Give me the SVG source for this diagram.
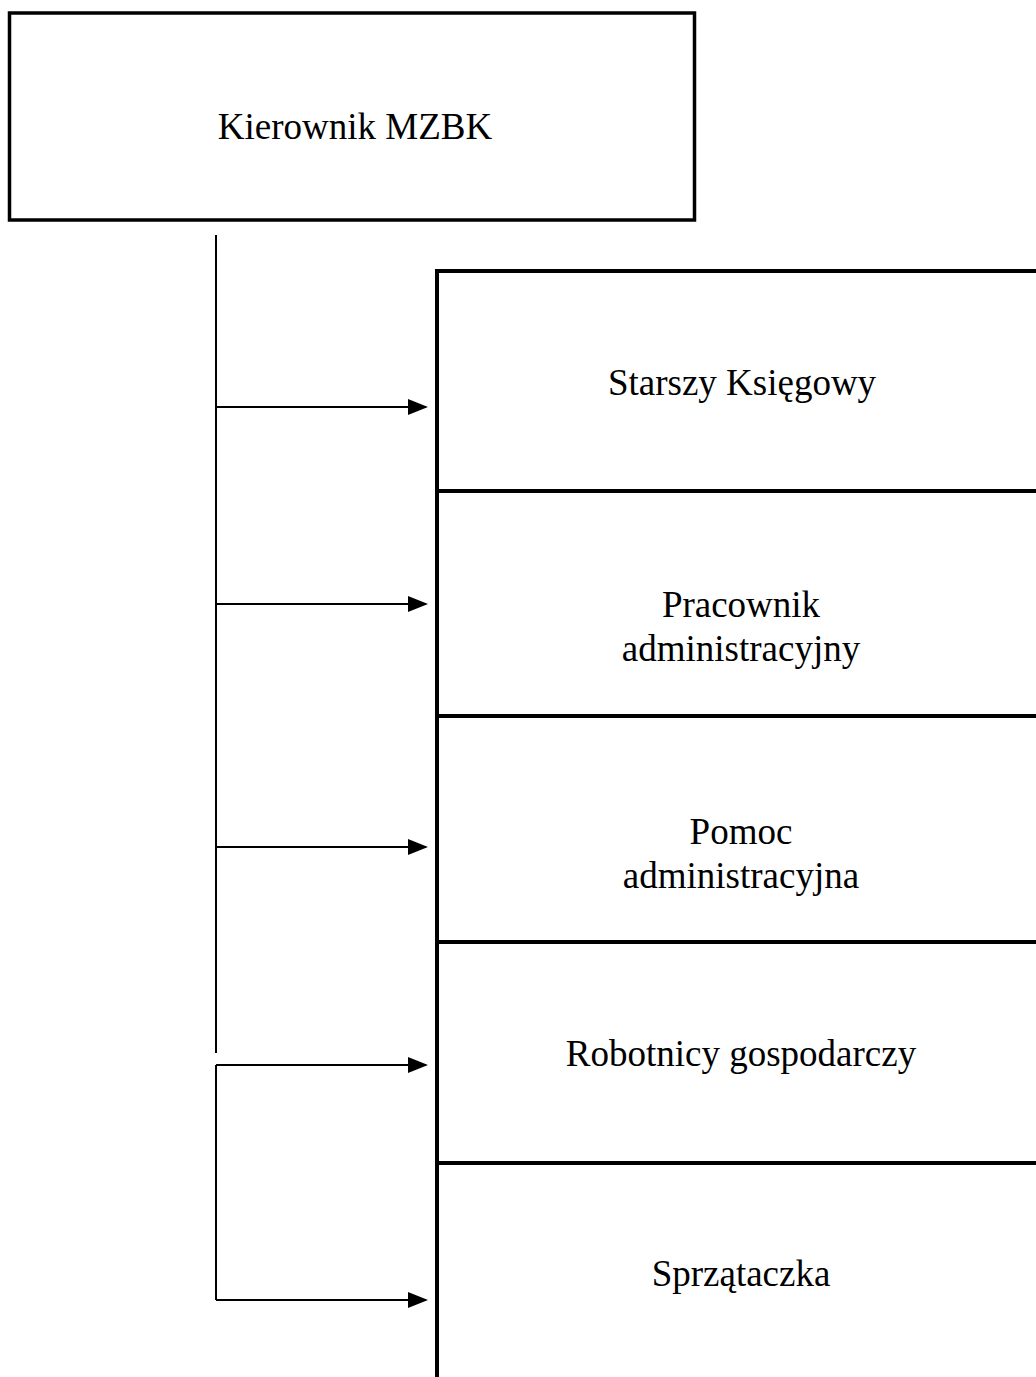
<svg xmlns="http://www.w3.org/2000/svg" width="1036" height="1377" viewBox="0 0 1036 1377">
<style>
.box{fill:#fff;stroke:#000;stroke-width:4}
.top{fill:#fff;stroke:#000;stroke-width:3.5}
.lbl{font-family:"Liberation Serif","Times New Roman",serif;font-size:37px;fill:#000;text-anchor:middle}
.ln{stroke:#000;stroke-width:2;fill:none}
</style>
<defs>
<marker id="ah" markerWidth="10" markerHeight="8" refX="9" refY="4" orient="auto" markerUnits="strokeWidth">
<path d="M0,0 L10,4 L0,8 Z" fill="#000"/>
</marker>
</defs>
<rect width="1036" height="1377" fill="#fff"/>
<g id="kierownik">
<rect class="top" x="9.5" y="13" width="685" height="207"/>
<text class="lbl" x="355" y="139">Kierownik MZBK</text>
</g>
<g id="starszy-ksiegowy">
<rect class="box" x="437" y="271" width="640" height="220"/>
<text class="lbl" x="742" y="395">Starszy Księgowy</text>
</g>
<g id="pracownik-administracyjny">
<rect class="box" x="437" y="491" width="640" height="225"/>
<text class="lbl" x="741" y="617">Pracownik</text>
<text class="lbl" x="741" y="661">administracyjny</text>
</g>
<g id="pomoc-administracyjna">
<rect class="box" x="437" y="716" width="640" height="226"/>
<text class="lbl" x="741" y="844">Pomoc</text>
<text class="lbl" x="741" y="888">administracyjna</text>
</g>
<g id="robotnicy-gospodarczy">
<rect class="box" x="437" y="942" width="640" height="221"/>
<text class="lbl" x="741" y="1066">Robotnicy gospodarczy</text>
</g>
<g id="sprzataczka">
<rect class="box" x="437" y="1163" width="640" height="240"/>
<text class="lbl" x="741" y="1286">Sprzątaczka</text>
</g>
<g id="connectors">
<line class="ln" x1="216" y1="235" x2="216" y2="1053"/>
<line class="ln" x1="216" y1="1065" x2="216" y2="1300"/>
<line class="ln" x1="216" y1="407" x2="426" y2="407" marker-end="url(#ah)"/>
<line class="ln" x1="216" y1="604" x2="426" y2="604" marker-end="url(#ah)"/>
<line class="ln" x1="216" y1="847" x2="426" y2="847" marker-end="url(#ah)"/>
<line class="ln" x1="216" y1="1065" x2="426" y2="1065" marker-end="url(#ah)"/>
<line class="ln" x1="216" y1="1300" x2="426" y2="1300" marker-end="url(#ah)"/>
</g>
</svg>
